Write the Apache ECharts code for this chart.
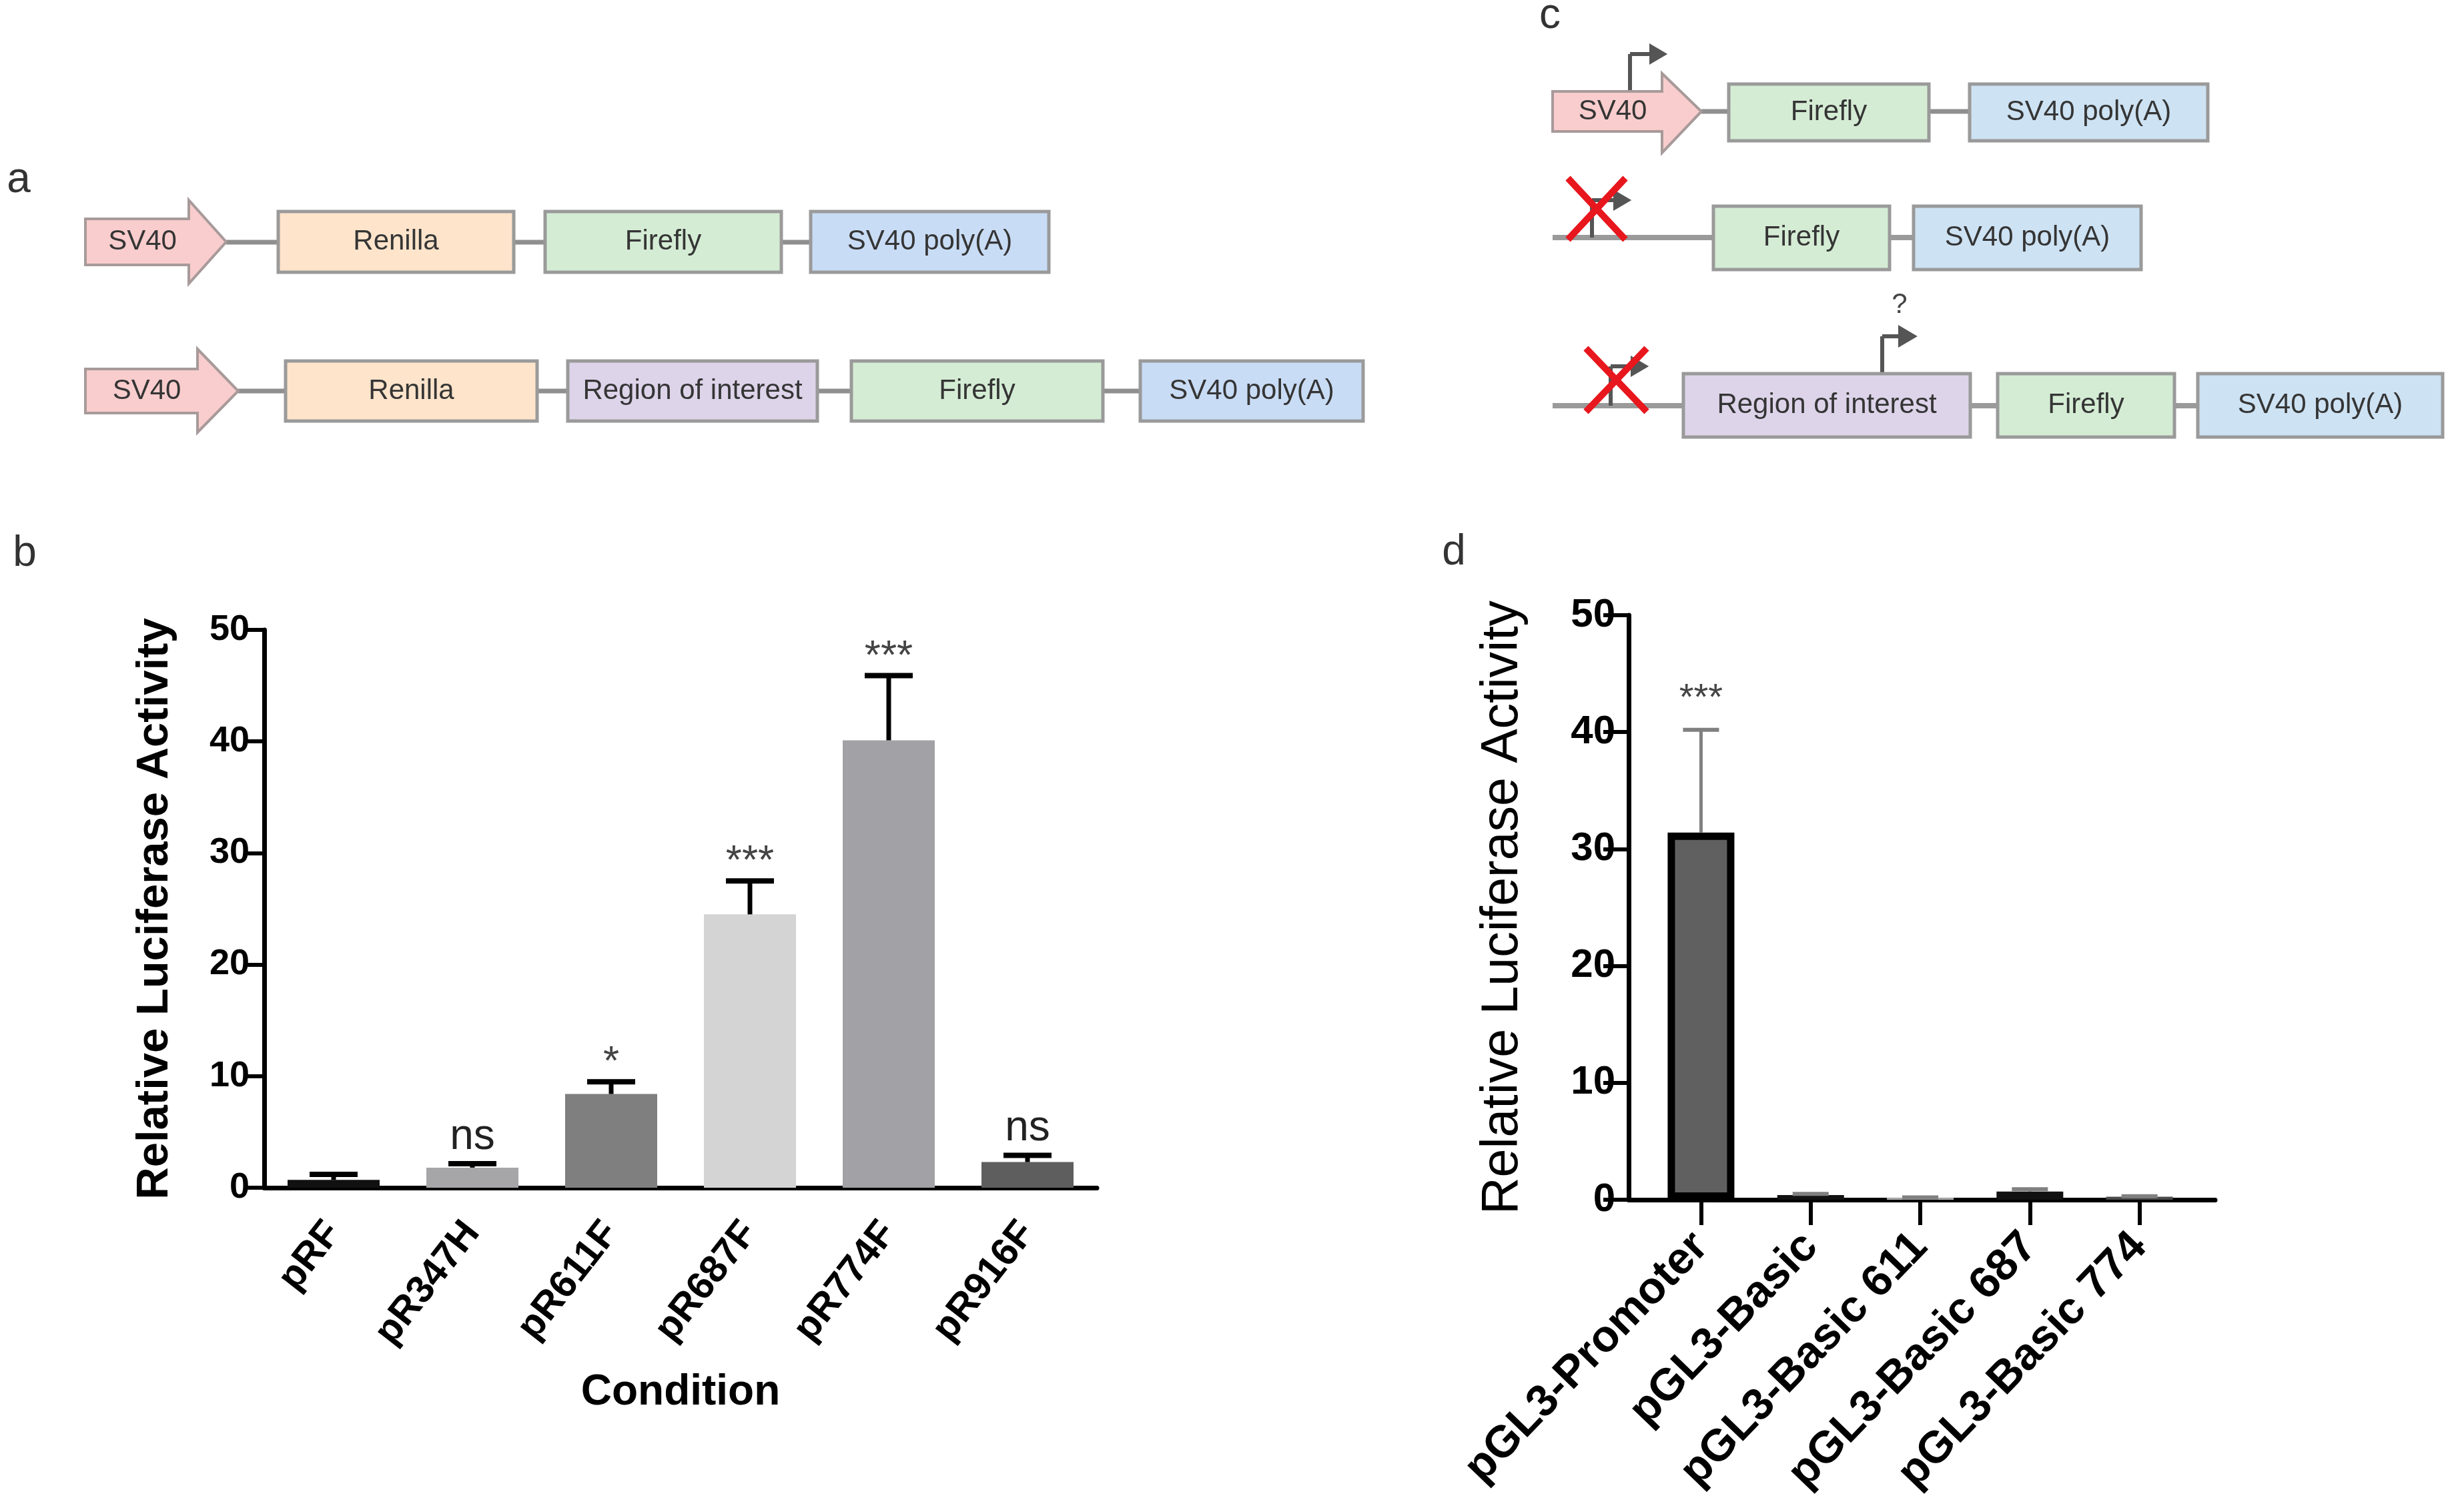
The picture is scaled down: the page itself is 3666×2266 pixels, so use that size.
<!DOCTYPE html>
<html><head><meta charset="utf-8">
<script src="https://cdn.jsdelivr.net/npm/echarts@6/dist/echarts.min.js"></script>
<style>html,body{margin:0;padding:0;background:#fff}#c{width:3666px;height:2266px}</style>
</head><body><div id="c"></div>
<script>
// ---- data: panel b ----
const categoriesB = ['pRF', 'pR347H', 'pR611F', 'pR687F', 'pR774F', 'pR916F'];
const meansB = [0.7, 1.8, 8.4, 24.5, 40.1, 2.3];
const errB = [0.5, 0.35, 1.1, 3.0, 5.8, 0.6];
const sigB = ['', 'ns', '*', '***', '***', 'ns'];
// ---- data: panel d ----
const categoriesD = ['pGL3-Promoter', 'pGL3-Basic', 'pGL3-Basic 611', 'pGL3-Basic 687', 'pGL3-Basic 774'];
const meansD = [31.4, 0.4, 0.15, 0.7, 0.25];
const errD = [8.8, 0.1, 0.05, 0.2, 0.05];
const sigD = ['***', '', '', '', ''];
const yTicks = [0, 10, 20, 30, 40, 50];

// ---- styles ----
const colorsB = ['#111111', '#a6a6a9', '#7f7f7f', '#d4d4d4', '#a2a2a6', '#5e5e5e'];
const colorsD = ['#606060', '#111111', '#b8b8b8', '#111111', '#4a4a4a'];
const FF = '"Liberation Sans", Arial, sans-serif';

const chart = echarts.init(document.getElementById('c'), null, {renderer: 'canvas'});

// ---- diagram helpers (schematic panels a and c) ----
const G = [];
function ln(x1, y1, x2, y2, c, w) {
  G.push({type: 'line', shape: {x1, y1, x2, y2}, style: {stroke: c, lineWidth: w}, z: 1});
}
function box(x1, y1, x2, y2, fill, label) {
  G.push({type: 'rect', shape: {x: x1, y: y1, width: x2 - x1, height: y2 - y1},
    style: {fill: fill, stroke: '#9a9a9a', lineWidth: 5}, z: 2});
  G.push({type: 'text', x: (x1 + x2) / 2, y: (y1 + y2) / 2,
    style: {text: label, fill: '#353535', font: '42px ' + FF, align: 'center', verticalAlign: 'middle'}, z: 3});
}
function sv40(x0, bt, bb, hx, ht, hb, tip) {
  const cy = (bt + bb) / 2;
  G.push({type: 'polygon', shape: {points: [[x0, bt], [hx, bt], [hx, ht], [tip, cy], [hx, hb], [hx, bb], [x0, bb]]},
    style: {fill: '#f9cdcd', stroke: '#a89a9a', lineWidth: 4}, z: 2});
  G.push({type: 'text', x: (x0 + hx) / 2 + 8, y: cy,
    style: {text: 'SV40', fill: '#353535', font: '42px ' + FF, align: 'center', verticalAlign: 'middle'}, z: 3});
}
function bent(x, yb, yt, xh, size, c, w) {
  ln(x, yb, x, yt, c, w);
  ln(x, yt, xh, yt, c, w);
  G.push({type: 'polygon', shape: {points: [[xh, yt - size * 0.5], [xh + size * 0.85, yt], [xh, yt + size * 0.5]]},
    style: {fill: c}, z: 4});
}
function cross(x1, y1, x2, y2) {
  G.push({type: 'line', shape: {x1, y1, x2, y2}, style: {stroke: '#e8161d', lineWidth: 10}, z: 5});
  G.push({type: 'line', shape: {x1: x2, y1: y1, x2: x1, y2: y2}, style: {stroke: '#e8161d', lineWidth: 10}, z: 5});
}
function lbl(t, x, y) {
  G.push({type: 'text', x, y, style: {text: t, fill: '#333', font: '64px ' + FF, align: 'center', verticalAlign: 'middle'}, z: 3});
}
const PEACH = '#fde4cb', GREEN = '#d4ecd4', BLUE = '#c9dcf5', BLUE2 = '#cde2f3', LAV = '#ddd4ea';

// panel a
lbl('a', 28, 270); lbl('b', 37, 830); lbl('c', 2323, 24); lbl('d', 2179, 828);
ln(339, 363, 417, 363, '#8f8f8f', 7); ln(770, 363, 817, 363, '#8f8f8f', 7); ln(1171, 363, 1215, 363, '#8f8f8f', 7);
sv40(128, 328, 397, 283, 300, 425, 339);
box(417, 317, 770, 408, PEACH, 'Renilla');
box(817, 317, 1171, 408, GREEN, 'Firefly');
box(1215, 317, 1572, 408, BLUE, 'SV40 poly(A)');
ln(357, 586, 428, 586, '#8f8f8f', 7); ln(805, 586, 851, 586, '#8f8f8f', 7); ln(1225, 586, 1276, 586, '#8f8f8f', 7); ln(1653, 586, 1709, 586, '#8f8f8f', 7);
sv40(128, 553, 619, 296, 523, 648, 357);
box(428, 541, 805, 631, PEACH, 'Renilla');
box(851, 541, 1225, 631, LAV, 'Region of interest');
box(1276, 541, 1653, 631, GREEN, 'Firefly');
box(1709, 541, 2043, 631, BLUE, 'SV40 poly(A)');

// panel c
ln(2550, 167, 2591, 167, '#8f8f8f', 7); ln(2891, 167, 2952, 167, '#8f8f8f', 7);
sv40(2327, 137, 197, 2491, 110, 229, 2550);
bent(2443, 137, 81, 2472, 32, '#555555', 6);
box(2591, 126, 2891, 211, GREEN, 'Firefly');
box(2952, 126, 3309, 211, BLUE2, 'SV40 poly(A)');

ln(2327, 356, 2568, 356, '#9a9a9a', 8); ln(2832, 356, 2868, 356, '#9a9a9a', 8);
bent(2386, 356, 300, 2418, 32, '#555555', 6);
box(2568, 309, 2832, 404, GREEN, 'Firefly');
box(2868, 309, 3209, 404, BLUE2, 'SV40 poly(A)');
cross(2350, 267, 2436, 359);

ln(2327, 608, 2523, 608, '#9a9a9a', 8); ln(2953, 608, 2994, 608, '#9a9a9a', 8); ln(3259, 608, 3294, 608, '#9a9a9a', 8);
bent(2414, 608, 549, 2444, 32, '#555555', 6);
box(2523, 560, 2953, 655, LAV, 'Region of interest');
box(2994, 560, 3259, 655, GREEN, 'Firefly');
box(3294, 560, 3661, 655, BLUE2, 'SV40 poly(A)');
cross(2377, 522, 2468, 617);
bent(2821, 560, 504, 2845, 34, '#555555', 6);
G.push({type: 'text', x: 2847, y: 457, style: {text: '?', fill: '#444', font: '42px ' + FF, align: 'center', verticalAlign: 'middle'}, z: 3});

// ---- error bar renderers ----
function errRenderer(sig, lineColor, lw, capW, capLw, textOff, starOff, fontSize) {
  return function (params, api) {
    const x = api.value(0);
    const base = api.coord([x, api.value(1)]);
    const top = api.coord([x, api.value(2)]);
    const s = sig[params.dataIndex];
    const children = [
      {type: 'line', shape: {x1: top[0], y1: base[1], x2: top[0], y2: top[1]}, style: {stroke: lineColor, lineWidth: lw}},
      {type: 'line', shape: {x1: top[0] - capW / 2, y1: top[1], x2: top[0] + capW / 2, y2: top[1]}, style: {stroke: lineColor, lineWidth: capLw}}
    ];
    if (s) {
      const isStar = s.indexOf('*') >= 0;
      children.push({type: 'text', x: top[0], y: top[1] - (isStar ? starOff : textOff),
        style: {text: s, fill: isStar ? '#444' : '#222', font: (isStar ? fontSize : 64) + 'px ' + FF,
          align: 'center', verticalAlign: 'middle'}});
    }
    return {type: 'group', children};
  };
}

const axisTxt = {color: '#000', fontFamily: FF, fontWeight: 'bold'};

const option = {
  backgroundColor: '#fff',
  animation: false,
  textStyle: {fontFamily: FF},
  graphic: G,
  grid: [
    {left: 396, top: 944, width: 1248, height: 836},
    {left: 2441, top: 922, width: 879, height: 876}
  ],
  xAxis: [
    {type: 'category', gridIndex: 0, data: categoriesB,
      axisLine: {lineStyle: {color: '#000', width: 7}},
      axisTick: {alignWithLabel: true, length: 32, lineStyle: {color: '#000', width: 6}},
      axisLabel: Object.assign({rotate: 52, fontSize: 58, margin: 58, interval: 0}, axisTxt),
      name: 'Condition', nameLocation: 'middle', nameGap: 275,
      nameTextStyle: {fontSize: 64, fontWeight: 'bold', color: '#000', fontFamily: FF}},
    {type: 'value', gridIndex: 1, min: -0.66, max: 4.69,
      splitLine: {show: false},
      axisLine: {onZero: false, lineStyle: {color: '#000', width: 7}},
      axisTick: {customValues: [0, 1, 2, 3, 4], length: 38, lineStyle: {color: '#000', width: 6}},
      axisLabel: Object.assign({customValues: [0, 1, 2, 3, 4], rotate: 46, fontSize: 67, margin: 60,
        formatter: v => categoriesD[Math.round(v)] || ''}, axisTxt)}
  ],
  yAxis: [
    {type: 'value', gridIndex: 0, min: 0, max: 50, interval: 10,
      splitLine: {show: false},
      axisLine: {show: true, onZero: false, lineStyle: {color: '#000', width: 7}},
      axisTick: {show: true, length: 30, lineStyle: {color: '#000', width: 6}},
      axisLabel: Object.assign({fontSize: 54, margin: 22, customValues: yTicks}, axisTxt),
      name: 'Relative Luciferase Activity', nameLocation: 'middle', nameGap: 130,
      nameTextStyle: {fontSize: 67, fontWeight: 'bold', color: '#000', fontFamily: FF}},
    {type: 'value', gridIndex: 1, min: 0, max: 50, interval: 10,
      splitLine: {show: false},
      axisLine: {show: true, onZero: false, lineStyle: {color: '#000', width: 7}},
      axisTick: {show: true, length: 38, lineStyle: {color: '#000', width: 6}},
      axisLabel: Object.assign({fontSize: 60, margin: 20}, axisTxt),
      name: 'Relative Luciferase Activity', nameLocation: 'middle', nameGap: 150,
      nameTextStyle: {fontSize: 77, fontWeight: 'normal', color: '#000', fontFamily: FF}}
  ],
  series: [
    {type: 'bar', xAxisIndex: 0, yAxisIndex: 0, barWidth: 138, z: 2,
      data: meansB.map((v, i) => ({value: v, itemStyle: {color: colorsB[i]}}))},
    {type: 'custom', xAxisIndex: 0, yAxisIndex: 0, z: 3,
      data: meansB.map((v, i) => [i, v, v + errB[i]]),
      renderItem: errRenderer(sigB, '#000', 7, 72, 8, 40, 28, 62)},
    {type: 'bar', xAxisIndex: 1, yAxisIndex: 1, barWidth: 100, z: 2,
      data: meansD.map((v, i) => ({value: [i, v], itemStyle: i === 0 ?
        {color: colorsD[i], borderColor: '#000', borderWidth: 11} : {color: colorsD[i]}}))},
    {type: 'custom', xAxisIndex: 1, yAxisIndex: 1, z: 3,
      data: meansD.map((v, i) => [i, v, v + errD[i]]),
      renderItem: errRenderer(sigD, '#808080', 5, 54, 6, 40, 46, 56)}
  ]
};
chart.setOption(option);
</script></body></html>
